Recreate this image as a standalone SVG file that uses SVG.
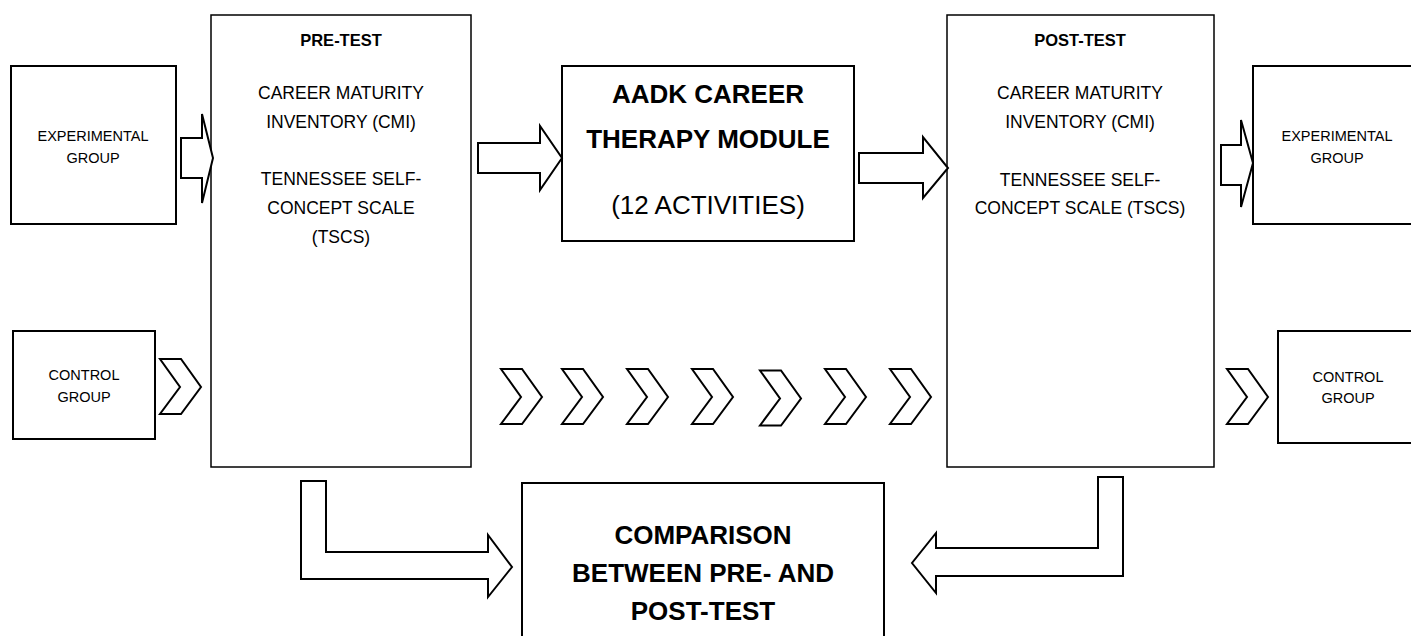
<svg xmlns="http://www.w3.org/2000/svg" width="1411" height="636" viewBox="0 0 1411 636">
<style>
.box{fill:#fff;stroke:#000;stroke-width:2}
.tbox{fill:#fff;stroke:#000;stroke-width:1.5}
.arr{fill:#fff;stroke:#000;stroke-width:2;stroke-linejoin:miter}
text{font-family:"Liberation Sans",Arial,sans-serif;fill:#000;text-anchor:middle}
.s{font-size:14.5px}
.m{font-size:17.5px}
.mb{font-size:16.5px;font-weight:bold}
.lb{font-size:26px;font-weight:bold}
.l{font-size:26px}
</style>
<defs>
<path id="chev" d="M0,0 H21 L41,28 L21,55 H0 L20,28 Z"/>
</defs>
<rect width="1411" height="636" fill="#fff"/>

<g id="exp-left">
<rect class="box" x="11" y="66" width="165" height="158"/>
<text class="s" x="93" y="141">EXPERIMENTAL</text>
<text class="s" x="93" y="163">GROUP</text>
</g>

<g id="control-left">
<rect class="box" x="13" y="331" width="142" height="108"/>
<text class="s" x="84" y="380">CONTROL</text>
<text class="s" x="84" y="402">GROUP</text>
</g>

<g id="pre-test">
<rect class="tbox" x="211" y="15" width="260" height="452"/>
<text class="mb" x="341" y="46">PRE-TEST</text>
<text class="m" x="341" y="99">CAREER MATURITY</text>
<text class="m" x="341" y="128">INVENTORY (CMI)</text>
<text class="m" x="341" y="185">TENNESSEE SELF-</text>
<text class="m" x="341" y="214">CONCEPT SCALE</text>
<text class="m" x="341" y="243">(TSCS)</text>
</g>

<g id="module">
<rect class="box" x="562" y="66" width="292" height="175"/>
<text class="lb" x="708" y="103">AADK CAREER</text>
<text class="lb" x="708" y="148">THERAPY MODULE</text>
<text class="l" x="708" y="214">(12 ACTIVITIES)</text>
</g>

<g id="post-test">
<rect class="tbox" x="947" y="15" width="267" height="452"/>
<text class="mb" x="1080" y="46">POST-TEST</text>
<text class="m" x="1080" y="99">CAREER MATURITY</text>
<text class="m" x="1080" y="128">INVENTORY (CMI)</text>
<text class="m" x="1080" y="186">TENNESSEE SELF-</text>
<text class="m" x="1080" y="214">CONCEPT SCALE (TSCS)</text>
</g>

<g id="exp-right">
<rect class="box" x="1253" y="66" width="200" height="158"/>
<text class="s" x="1337" y="141">EXPERIMENTAL</text>
<text class="s" x="1337" y="163">GROUP</text>
</g>

<g id="control-right">
<rect class="box" x="1278" y="331" width="200" height="112"/>
<text class="s" x="1348" y="382">CONTROL</text>
<text class="s" x="1348" y="403">GROUP</text>
</g>

<g id="comparison">
<rect class="box" x="522" y="483" width="362" height="170"/>
<text class="lb" x="703" y="544">COMPARISON</text>
<text class="lb" x="703" y="582">BETWEEN PRE- AND</text>
<text class="lb" x="703" y="620">POST-TEST</text>
</g>

<g id="connectors">
<path class="arr" d="M181,138 H202 V114 L213,158 L202,203 V178 H181 Z"/>
<path class="arr" d="M478,143 H540 V126 L562,158 L540,190 V173 H478 Z"/>
<path class="arr" d="M859,153 H923 V137 L948,168 L923,198 V183 H859 Z"/>
<path class="arr" d="M1221,145 H1241 V120 L1253,163 L1241,207 V185 H1221 Z"/>
<path class="arr" d="M301,481 H326 V552 H488 V535 L512,567 L488,597 V579 H301 Z"/>
<path class="arr" d="M1123,477 H1098 V548 H936 V533 L912,563 L936,593 V576 H1123 Z"/>
<use href="#chev" class="arr" x="160" y="359"/>
<use href="#chev" class="arr" x="501" y="369"/>
<use href="#chev" class="arr" x="562" y="369"/>
<use href="#chev" class="arr" x="627" y="369"/>
<use href="#chev" class="arr" x="692" y="369"/>
<use href="#chev" class="arr" x="760" y="370.5"/>
<use href="#chev" class="arr" x="825" y="369"/>
<use href="#chev" class="arr" x="890" y="369"/>
<use href="#chev" class="arr" x="1227" y="369"/>
</g>
</svg>
